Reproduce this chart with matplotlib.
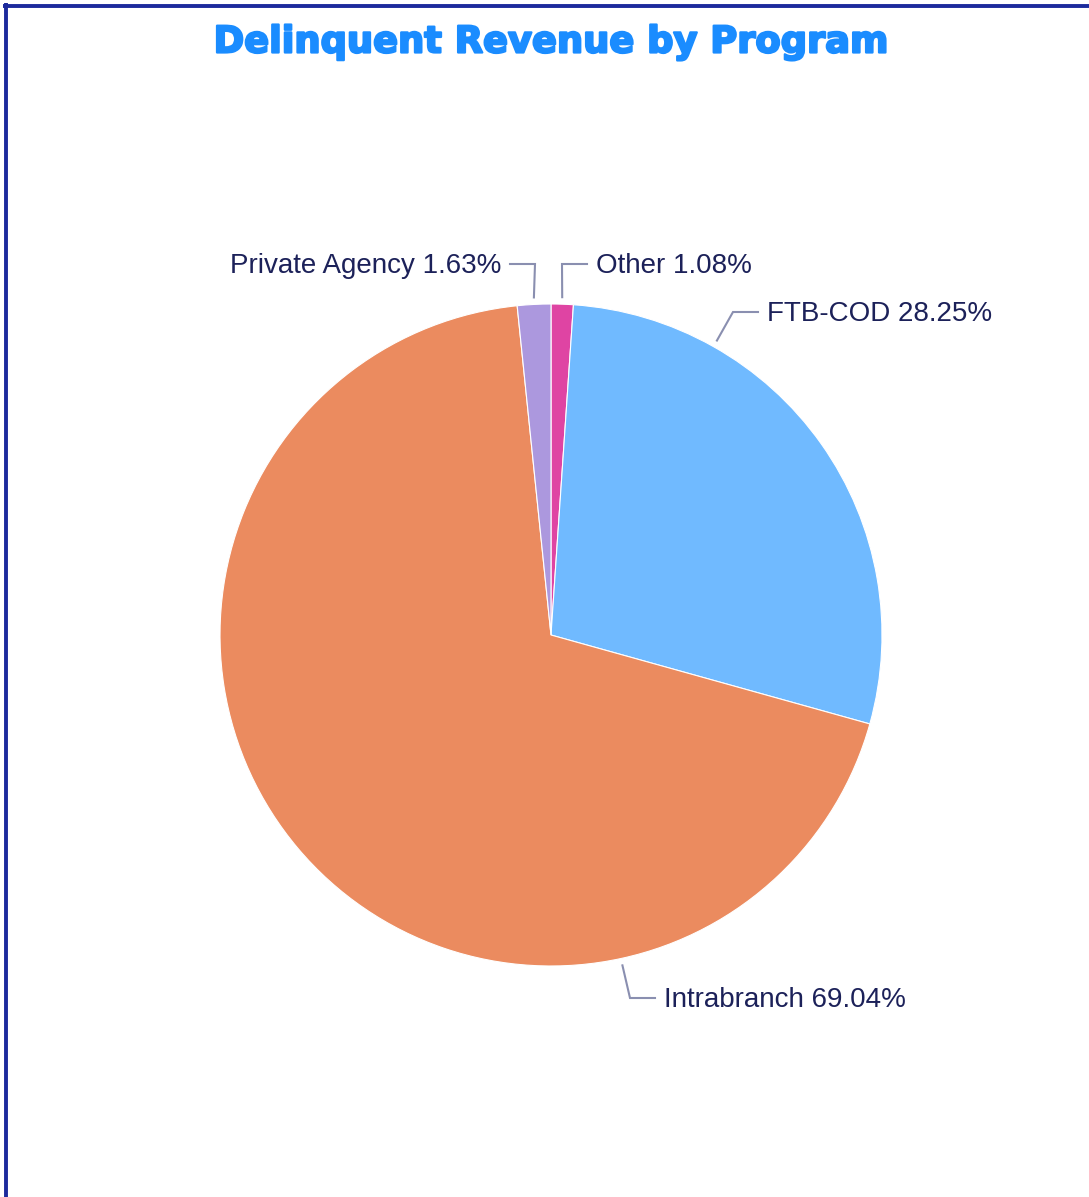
import numpy as np
import matplotlib
matplotlib.use("Agg")
import matplotlib.pyplot as plt
import matplotlib.patheffects as pe

# revenue share per program, clockwise from 12 o'clock
programs = ["Other", "FTB-COD", "Intrabranch", "Private Agency"]
shares = [1.08, 28.25, 69.04, 1.63]
colors = ["#df44a3", "#70baff", "#eb8b5f", "#ac98de"]

W, H = 1089, 1197
cx, cy, R = 551, H - 635, 331

fig = plt.figure(figsize=(W / 100, H / 100), dpi=100)
ax = fig.add_axes([0, 0, 1, 1])

wedges, _ = ax.pie(shares, colors=colors, startangle=90, counterclock=False,
                   center=(cx, cy), radius=R, frame=True,
                   wedgeprops=dict(edgecolor="white", linewidth=0.8))
ax.set_xlim(0, W)
ax.set_ylim(0, H)
ax.set_aspect("equal")
ax.axis("off")

# leader lines: anchor angle (deg clockwise from top), elbow, text side
label_layout = {
    "Other":          (1.9,   (562, 264), 1),
    "FTB-COD":        (29.4,  (733, 312), 1),
    "Intrabranch":    (167.8, (630, 998), 1),
    "Private Agency": (-2.9,  (535, 264), -1),
}
line_col = "#8a8fb0"
text_col = "#1c2159"
for name, val in zip(programs, shares):
    ang, (ex, ey), side = label_layout[name]
    a = np.deg2rad(ang)
    sx = cx + (R + 7) * np.sin(a)
    sy = cy + (R + 7) * np.cos(a)
    ey = H - ey
    hx = ex + side * 25
    ax.plot([sx, ex, hx], [sy, ey, ey], color=line_col, lw=1.5,
            solid_joinstyle="miter")
    ax.text(hx + side * 9, ey + 1, f"{name} {val:.2f}%", color=text_col,
            fontsize=20, family="Liberation Sans",
            ha="left" if side > 0 else "right", va="center_baseline")

title_col = "#1a8cff"
ax.text(551, H - 42, "Delinquent Revenue by Program", color=title_col,
        fontsize=26.5, fontweight="bold", family="DejaVu Sans",
        ha="center", va="center",
        path_effects=[pe.withStroke(linewidth=1.6, foreground=title_col)])

# frame edges on the top and left
border = "#1c2a9c"
ax.plot([3, W], [H - 5.5, H - 5.5], color=border, lw=2.8, solid_capstyle="butt")
ax.plot([5.5, 5.5], [0, H - 3], color=border, lw=2.8, solid_capstyle="butt")

fig.savefig("out.png", dpi=100)
